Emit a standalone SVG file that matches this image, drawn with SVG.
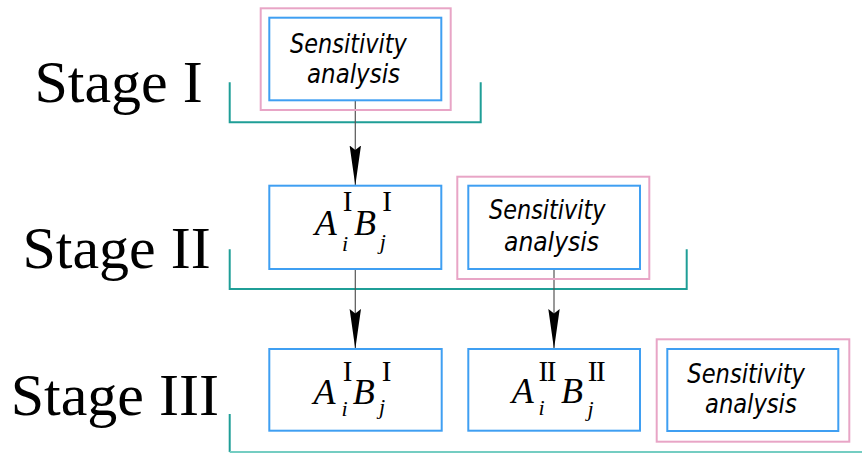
<svg xmlns="http://www.w3.org/2000/svg" width="867" height="454" viewBox="0 0 867 454">
<defs>
<marker id="ah" viewBox="0 0 40 12" refX="40" refY="6" markerWidth="40" markerHeight="12" markerUnits="userSpaceOnUse" orient="auto">
<path d="M0,0.3 L4.5,6 L0,11.7 L40,6 Z" fill="#000"/>
</marker>
<style>
.stage{font-family:"Liberation Serif","Times New Roman",serif;font-size:60px;fill:#000}
.sa{font-family:"DejaVu Sans",sans-serif;font-style:italic;font-size:27px;fill:#000}
.mi{font-family:"Liberation Serif","Times New Roman",serif;font-style:italic;font-size:36px;fill:#000}
.sup{font-family:"Liberation Serif","Times New Roman",serif;font-size:29px;fill:#000}
.sub{font-family:"Liberation Serif","Times New Roman",serif;font-style:italic;font-size:22px;fill:#000}
.box{fill:#fff;stroke:#3f9ff2;stroke-width:2}
.frame{fill:none;stroke:#e8a5c6;stroke-width:2}
.br{fill:none;stroke:#1f9e97;stroke-width:2}
.conn{stroke:#555;stroke-width:1.2;fill:none;marker-end:url(#ah)}
</style>
</defs>
<rect width="867" height="454" fill="#fff"/>

<g id="stages">
<text class="stage" x="34.4" y="101.7">Stage I</text>
<text class="stage" x="22.4" y="268.3">Stage II</text>
<text class="stage" x="10.7" y="415">Stage III</text>
</g>

<g id="brackets">
<path class="br" d="M229.7,82.3 V122.3 H480.7 V82.3"/>
<path class="br" d="M229.7,249.3 V289 H686.7 V249.3"/>
<path class="br" d="M229.7,414 V452"/>
<path fill="none" stroke="#74cdc2" stroke-width="2" d="M229.7,452 H862"/>
</g>

<g id="connectors">
<line class="conn" x1="355.3" y1="100.3" x2="355.3" y2="185.5"/>
<line class="conn" x1="355.3" y1="269" x2="355.3" y2="349"/>
<line class="conn" x1="554" y1="269" x2="554" y2="349"/>
</g>

<g id="sa1">
<rect class="frame" x="260.7" y="8.3" width="190" height="101.7"/>
<rect class="box" x="269.3" y="17.7" width="172" height="82.6"/>
<text class="sa" x="290" y="53.3" textLength="116.7" lengthAdjust="spacingAndGlyphs">Sensitivity</text>
<text class="sa" x="307" y="82.7" textLength="93" lengthAdjust="spacingAndGlyphs">analysis</text>
</g>

<g id="ab2">
<rect class="box" x="269.3" y="185.7" width="172" height="83.3"/>
<text class="mi" x="314.8" y="235">A</text>
<text class="sup" x="342.8" y="210.7">I</text>
<text class="sub" x="342" y="251">i</text>
<text class="mi" x="353.9" y="235">B</text>
<text class="sub" x="379.7" y="249">j</text>
<text class="sup" x="382.2" y="210.7">I</text>
</g>

<g id="sa2">
<rect class="frame" x="457.3" y="176.7" width="192" height="102.3"/>
<rect class="box" x="468.3" y="185.7" width="171.7" height="83.3"/>
<text class="sa" x="489" y="219.3" textLength="116.5" lengthAdjust="spacingAndGlyphs">Sensitivity</text>
<text class="sa" x="504" y="251" textLength="95" lengthAdjust="spacingAndGlyphs">analysis</text>
</g>

<g id="ab3a">
<rect class="box" x="269.3" y="349" width="172.4" height="81.7"/>
<text class="mi" x="313.5" y="404">A</text>
<text class="sup" x="342.8" y="380.7">I</text>
<text class="sub" x="341.5" y="416">i</text>
<text class="mi" x="352.8" y="404">B</text>
<text class="sub" x="379" y="414">j</text>
<text class="sup" x="381.7" y="380.7">I</text>
</g>

<g id="ab3b">
<rect class="box" x="468.3" y="349" width="171.7" height="81.7"/>
<text class="mi" x="511.8" y="403.3">A</text>
<text class="sup" x="538.5" y="380.7" letter-spacing="-1.5">II</text>
<text class="sub" x="538.5" y="415">i</text>
<text class="mi" x="561" y="403.3">B</text>
<text class="sub" x="587.5" y="416">j</text>
<text class="sup" x="587.8" y="380.7" letter-spacing="-1.5">II</text>
</g>

<g id="sa3">
<rect class="frame" x="656.7" y="339.3" width="192.6" height="102.4"/>
<rect class="box" x="667.3" y="349" width="171" height="82"/>
<text class="sa" x="687.3" y="383.3" textLength="117.7" lengthAdjust="spacingAndGlyphs">Sensitivity</text>
<text class="sa" x="705" y="413.3" textLength="91.7" lengthAdjust="spacingAndGlyphs">analysis</text>
</g>
</svg>
